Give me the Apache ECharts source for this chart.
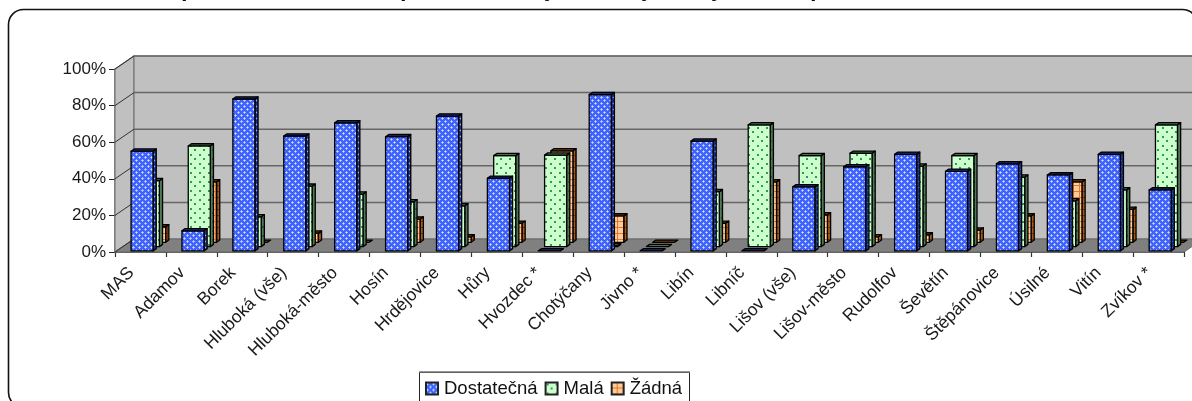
<!DOCTYPE html>
<html><head><meta charset="utf-8">
<style>html,body{margin:0;padding:0;background:#fff;overflow:hidden}#c{width:1192px;height:401px}</style>
<script src="https://cdn.jsdelivr.net/npm/echarts@6/dist/echarts.min.js"></script>
</head><body><div id="c"></div>
<script>
const categories = ['MAS','Adamov','Borek','Hluboká (vše)','Hluboká-město','Hosín','Hrdějovice','Hůry','Hvozdec *','Chotýčany','Jivno *','Libín','Libníč','Lišov (vše)','Lišov-město','Rudolfov','Ševětín','Štěpánovice','Úsilné','Vitín','Zvíkov *'];
const dostatecna = [54.5,11,83,62.8,70,62.4,73.7,39.7,0,85.4,0,60,0,35,46,52.8,43.5,47.6,41.5,52.8,33.3];
const mala = [36,55,16.3,33,28.7,24.5,22.3,49.7,50,0.5,0,30,66.5,49.7,51,44,49.7,38,25,31,66.5];
const zadna = [8.5,33,0,5,0,12.7,3,10.4,50,14.4,0,10.4,33,15,3,4,6.7,14.4,33,18,0];
const yTicks = [0,20,40,60,80,100];
const titleBits = [['p',188],['p',407],['y',550],[',',600],['y',647],['y',717],['p',817]];

const FONT = '"Liberation Sans", Arial, sans-serif';
const WALL_X = 19, WALL_Y = 13, BAR_W = 22, BAR_DX = 3.2, BAR_DY = 2.2;

function tile(w, h, base, draw) {
  const c = document.createElement('canvas'); c.width = w; c.height = h;
  const g = c.getContext('2d'); g.fillStyle = base; g.fillRect(0,0,w,h); draw(g);
  return {image: c, repeat: 'repeat'};
}
function lattice(base, light) {
  return tile(6,6,base,g=>{ g.fillStyle = light;
    [[1,1],[4,4]].forEach(([x,y])=>{ g.fillRect(x,y,1,1); g.fillRect(x-1,y,3,1); g.fillRect(x,y-1,1,3); });
    g.fillStyle = 'rgba(255,255,255,.55)'; g.fillRect(1,1,1,1); g.fillRect(4,4,1,1);
  });
}
function dots(base, dot) {
  return tile(9,9,base,g=>{ g.fillStyle = dot; g.fillRect(1,1,2,2); g.fillRect(5,5,2,2); });
}
function grid(base, line) {
  return tile(6,6,base,g=>{ g.fillStyle = line; g.fillRect(0,5,6,1); g.fillRect(5,0,1,6); });
}
const looks = {
  blue:  {front: lattice('#3f62ff','#9db8ff'), side: lattice('#1c2f86','#3f55b0'), top: '#1c2a70', depth: 1.6},
  green: {front: dots('#ccffcc','#2f9a5c'),    side: dots('#4f7a55','#2f5a3c'),    top: '#47704c', depth: 7.9},
  orange:{front: grid('#ffcc99','#e8762a'),    side: grid('#a85a1c','#6e3608'),    top: '#6e3a10', depth: 14.2}
};

function bar(look) {
  return function(params, api) {
    const i = api.value(0), v = api.value(1);
    const cx = api.coord([i,0])[0];
    const y0 = api.coord([i,0])[1] - look.depth * WALL_Y / WALL_X;
    const y1 = api.coord([i,v])[1] - look.depth * WALL_Y / WALL_X;
    const x0 = cx - BAR_W/2 + look.depth, x1 = x0 + BAR_W;
    const line = {stroke:'#000', lineWidth:1.3, lineJoin:'round'};
    const poly = (points, fill) => ({type:'polygon', shape:{points}, style:Object.assign({fill}, line)});
    const kids = [];
    if (v > 0) {
      kids.push(poly([[x1,y0],[x1+BAR_DX,y0-BAR_DY],[x1+BAR_DX,y1-BAR_DY],[x1,y1]], look.side));
      kids.push(poly([[x0,y0],[x1,y0],[x1,y1],[x0,y1]], look.front));
    }
    kids.push(poly([[x0,y1],[x1,y1],[x1+BAR_DX,y1-BAR_DY],[x0+BAR_DX,y1-BAR_DY]], look.top));
    return {type:'group', children:kids};
  };
}

function walls(params, api) {
  const band = api.size([1,0])[0];
  const xL = api.coord([0,0])[0] - band/2;
  const xR = api.coord([categories.length-1,0])[0] + band/2;
  const yB = api.coord([0,0])[1], yT = api.coord([0,100])[1];
  const kids = [
    {type:'polygon', shape:{points:[[xL,yB],[xL+WALL_X,yB-WALL_Y],[xL+WALL_X,yT-WALL_Y],[xL,yT]]}, style:{fill:'#c0c0c0',stroke:'#777',lineWidth:1.2}},
    {type:'polygon', shape:{points:[[xL+WALL_X,yB-WALL_Y],[xR+WALL_X,yB-WALL_Y],[xR+WALL_X,yT-WALL_Y],[xL+WALL_X,yT-WALL_Y]]}, style:{fill:'#c0c0c0',stroke:'#777',lineWidth:1.2}},
    {type:'polygon', shape:{points:[[xL,yB],[xR,yB],[xR+WALL_X,yB-WALL_Y],[xL+WALL_X,yB-WALL_Y]]}, style:{fill:'#808080',stroke:'#666',lineWidth:1}}
  ];
  yTicks.forEach(t=>{
    const y = api.coord([0,t])[1];
    if (t > 0) kids.push({type:'line', shape:{x1:xL+WALL_X,y1:y-WALL_Y,x2:xR+WALL_X,y2:y-WALL_Y}, style:{stroke: '#666', lineWidth:1.5}});
    kids.push({type:'line', shape:{x1:xL,y1:y,x2:xL+WALL_X,y2:y-WALL_Y}, style:{stroke:'#333',lineWidth:1}});
  });
  return {type:'group', children:kids};
}

const toPts = a => a.map((v,i)=>[i,v]);
const graphicEls = [
  {type:'rect', shape:{x:8.5,y:9.5,width:1189,height:398,r:15}, style:{fill:'none',stroke:'#111',lineWidth:1.6}, z:10},
  {type:'rect', shape:{x:419.5,y:372.5,width:270,height:40}, style:{fill:'#fff',stroke:'#222',lineWidth:1}, z:1},
  {type:'line', shape:{x1:419,y1:372,x2:690,y2:372}, style:{stroke:'#777',lineWidth:1.6}, z:1}
].concat(titleBits.map(([t,x])=>({type:'text', x, y:1, style:{text:t, font:'bold 22px '+FONT, fill:'#000', align:'center', verticalAlign:'bottom'}, z:10})));

const chart = echarts.init(document.getElementById('c'), null, {renderer:'canvas'});
chart.setOption({
  animation:false,
  backgroundColor:'#fff',
  textStyle:{fontFamily:FONT},
  grid:{left:115, width:1069, top:69, height:183, containLabel:false},
  xAxis:{type:'category', data:categories, boundaryGap:true,
    axisLine:{show:true, lineStyle:{color:'#333',width:1.5}},
    axisTick:{show:true, length:5, alignWithLabel:false, lineStyle:{color:'#333',width:1.2}},
    axisLabel:{interval:0, rotate:45, margin:9, padding:[0,13,0,0], fontSize:17.5, color:'#1a1a1a', fontFamily:FONT}},
  yAxis:{type:'value', min:0, max:100, interval:20,
    splitLine:{show:false},
    axisLine:{show:true, lineStyle:{color:'#666',width:1.5}},
    axisTick:{show:true, length:6, lineStyle:{color:'#222',width:1}},
    axisLabel:{formatter:'{value}%', margin:9, fontSize:17, color:'#1a1a1a', fontFamily:FONT}},
  legend:{show:true, left:419, top:376, padding:[3,6,3,6], itemWidth:12, itemHeight:12, itemGap:7,
    data:['Dostatečná','Malá','Žádná'], icon:'rect',
    textStyle:{fontSize:18.5, color:'#111', fontFamily:FONT, padding:[0,0,0,1]}},
  graphic:{elements:graphicEls},
  series:[
    {type:'custom', name:'steny', silent:true, renderItem:walls, data:[[0,0]], z:1, clip:false},
    {type:'custom', name:'Žádná', renderItem:bar(looks.orange), data:toPts(zadna), z:2, clip:false,
      itemStyle:{color:looks.orange.front, borderColor:'#222', borderWidth:1}},
    {type:'custom', name:'Malá', renderItem:bar(looks.green), data:toPts(mala), z:3, clip:false,
      itemStyle:{color:looks.green.front, borderColor:'#222', borderWidth:1}},
    {type:'custom', name:'Dostatečná', renderItem:bar(looks.blue), data:toPts(dostatecna), z:4, clip:false,
      itemStyle:{color:looks.blue.front, borderColor:'#222', borderWidth:1}}
  ]
});
</script></body></html>
